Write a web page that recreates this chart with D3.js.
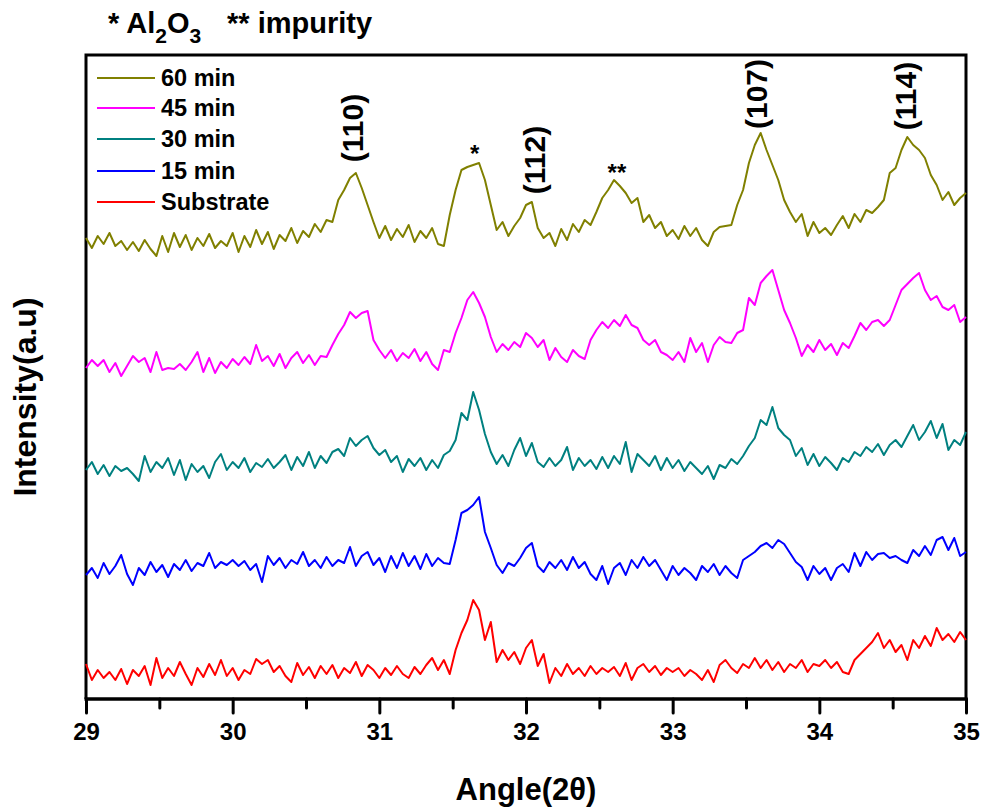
<!DOCTYPE html>
<html>
<head>
<meta charset="utf-8">
<script src="https://cdn.jsdelivr.net/npm/d3@7"></script>
<style>
  html, body { margin: 0; padding: 0; background: #fff; }
  svg { display: block; font-family: "Liberation Sans", Arial, sans-serif; font-weight: bold; }
</style>
</head>
<body>
<svg id="chart" width="985" height="808"></svg>
<script>
// ---------------- DATA ----------------
const angleStart = 29.0;   // 2θ of first sample
const angleStep = 0.04;    // sampling step (degrees)

const seriesNames = ["60 min", "45 min", "30 min", "15 min", "Substrate"];
const seriesColors = ["#808000", "#ff00ff", "#008080", "#0000ff", "#ff0000"];

// Stacked intensities (a.u.)
const min60 = [462,452,464,456,467,454,459,450,458,449,460,451,444,464,448,467,453,465,450,462,
454,466,452,459,454,467,448,464,453,470,456,468,451,465,459,472,457,469,463,476,
468,480,478,500,510,522,527,512,495,478,462,474,460,471,463,475,458,469,462,472,
456,454,485,510,530,533,535,537,520,495,470,478,464,474,482,495,498,472,462,467,
454,471,460,476,468,480,475,488,502,510,520,514,507,497,502,478,485,472,478,464,
470,461,474,464,472,460,454,468,473,474,475,495,510,537,555,567,550,535,520,500,
488,478,486,464,478,467,472,465,475,484,472,486,478,490,487,493,500,527,532,550,
563,555,550,542,525,515,500,508,495,502,507];

const min45 = [332,340,334,340,328,337,324,334,344,338,342,328,348,330,332,331,336,330,338,348,
328,342,327,338,332,341,335,343,336,355,339,344,334,346,332,342,348,337,345,335,
344,343,355,366,375,388,382,387,389,360,350,342,350,339,347,342,351,339,348,336,
330,350,348,367,382,400,408,397,383,363,348,356,350,358,353,367,362,353,360,340,
352,343,338,350,344,341,360,370,378,372,380,374,385,375,372,360,355,360,348,345,
340,348,338,362,348,357,338,355,363,358,357,367,370,402,395,417,424,430,410,390,
377,362,344,355,348,360,350,356,345,357,352,364,377,370,378,380,374,380,395,410,
416,422,427,410,400,404,393,390,395,378,383];

const min30 = [230,238,226,235,224,234,229,232,226,219,244,228,238,232,242,225,240,220,236,228,
234,222,238,246,230,238,232,242,228,237,233,241,232,238,245,230,243,234,248,232,
244,237,248,251,244,262,254,260,264,252,245,250,238,244,228,241,234,242,230,240,
232,245,249,260,287,280,308,290,266,248,236,245,234,250,262,244,257,238,233,242,
234,240,253,230,242,234,240,231,243,232,244,236,258,228,246,240,234,244,230,242,
232,240,229,238,232,226,234,221,235,232,241,236,244,254,262,280,275,293,272,265,
260,244,252,235,246,234,243,237,230,242,238,248,244,253,248,256,245,255,260,253,
264,275,260,268,279,262,276,250,260,255,268];

const min15 = [125,132,122,137,126,134,145,126,115,132,125,138,128,135,123,136,130,140,129,137,
134,147,132,138,135,140,134,139,130,136,118,144,135,142,132,140,136,148,134,140,
132,143,134,140,137,153,134,144,148,135,142,128,144,132,147,134,144,131,146,134,
142,137,136,160,187,190,195,203,168,152,135,127,137,134,142,152,157,134,128,138,
132,140,130,143,132,138,126,120,134,116,132,137,125,140,132,143,134,140,130,120,
134,125,132,127,120,134,128,136,125,134,127,122,140,144,148,154,157,152,160,156,
147,138,133,120,134,126,132,120,132,136,128,147,134,148,140,146,147,142,144,140,
137,150,144,154,145,160,163,150,162,144,148];

const substrate = [36,20,30,22,28,20,31,16,30,24,34,15,42,22,32,24,38,26,15,32,
23,36,25,40,24,32,20,30,26,41,36,40,28,34,24,18,37,25,33,22,
34,26,35,22,32,27,38,24,35,30,22,32,25,34,26,22,33,26,35,42,
30,40,26,50,67,80,100,90,60,78,38,50,40,48,36,52,60,34,46,17,
32,24,36,26,32,24,34,26,32,28,33,24,37,20,32,36,28,34,25,32,
28,32,24,30,26,20,30,18,35,40,32,27,36,32,42,32,40,30,38,28,
36,32,40,28,36,34,40,32,38,28,26,40,46,52,58,67,52,60,48,55,
40,60,52,64,54,72,60,66,58,68,60];

const seriesValues = [min60, min45, min30, min15, substrate];

const xTicks = [29, 30, 31, 32, 33, 34, 35];
const xMinorTicks = [29.5, 30.5, 31.5, 32.5, 33.5, 34.5];

const peakLabels = [
  { text: "(110)", angle: 30.89, top: 128 },
  { text: "(112)", angle: 32.13, top: 160 },
  { text: "(107)", angle: 33.64, top: 94 },
  { text: "(114)", angle: 34.66, top: 96 }
];
const starLabels = [
  { text: "*", angle: 31.65, intensity: 538 },
  { text: "**", angle: 32.62, intensity: 519 }
];

// ---------------- LAYOUT ----------------
const svg = d3.select("#chart");
const L = 86, R = 966, T = 55, B = 699;

const x = d3.scaleLinear().domain([29, 35]).range([L, R]);
const y = d3.scaleLinear().domain([1, 645]).range([B, T]);

// frame (left, top, right)
svg.append("path")
  .attr("d", `M${L},${B} L${L},${T} L${R},${T} L${R},${B}`)
  .attr("fill", "none").attr("stroke", "#000").attr("stroke-width", 3);

// curves
const line = d3.line()
  .x((d, i) => x(angleStart + i * angleStep))
  .y(d => y(d));

seriesValues.forEach((vals, k) => {
  svg.append("path")
    .datum(vals)
    .attr("d", line)
    .attr("fill", "none")
    .attr("stroke", seriesColors[k])
    .attr("stroke-width", 2)
    .attr("stroke-linejoin", "round");
});

// x axis
const xAxis = d3.axisBottom(x).tickValues(xTicks).tickSize(14).tickPadding(10)
  .tickFormat(d3.format("d"));
const gx = svg.append("g").attr("transform", `translate(0,${B})`).call(xAxis);
gx.select(".domain").attr("stroke-width", 3.5).attr("d", `M${L - 1.5},0H${R + 1.5}`);
gx.selectAll(".tick line").attr("stroke-width", 3).attr("stroke-linecap", "round");
gx.selectAll(".tick text")
  .attr("font-size", 24).attr("font-weight", "bold")
  .attr("font-family", '"Liberation Sans", Arial, sans-serif').attr("fill", "#000");

const xMinor = d3.axisBottom(x).tickValues(xMinorTicks).tickSize(9).tickFormat("");
const gm = svg.append("g").attr("transform", `translate(0,${B})`).call(xMinor);
gm.select(".domain").remove();
gm.selectAll(".tick line").attr("stroke-width", 3).attr("stroke-linecap", "round");

// axis titles
svg.append("text")
  .attr("x", (L + R) / 2).attr("y", 800)
  .attr("text-anchor", "middle").attr("font-size", 31)
  .text("Angle(2θ)");

svg.append("text")
  .attr("transform", "translate(36,397) rotate(-90)")
  .attr("text-anchor", "middle").attr("font-size", 32)
  .text("Intensity(a.u)");

// title
const title = svg.append("text").attr("x", 108).attr("y", 33).attr("font-size", 29);
title.append("tspan").text("* Al");
title.append("tspan").attr("font-size", 21).attr("dy", 10).text("2");
title.append("tspan").attr("dy", -10).text("O");
title.append("tspan").attr("font-size", 21).attr("dy", 10).text("3");
svg.append("text").attr("x", 227).attr("y", 33).attr("font-size", 29).text("** impurity");

// legend
const legendY = [78, 108, 139, 171, 202];
seriesNames.forEach((name, k) => {
  svg.append("line")
    .attr("x1", 97).attr("x2", 155)
    .attr("y1", legendY[k]).attr("y2", legendY[k])
    .attr("stroke", seriesColors[k]).attr("stroke-width", 2);
  svg.append("text")
    .attr("x", 161).attr("y", legendY[k] + 8)
    .attr("font-size", 23.5)
    .text(name);
});

// peak labels (rotated)
peakLabels.forEach(p => {
  svg.append("text")
    .attr("transform", `translate(${x(p.angle)},${p.top}) rotate(-90)`)
    .attr("text-anchor", "middle")
    .attr("font-size", 30)
    .text(p.text);
});
starLabels.forEach(s => {
  svg.append("text")
    .attr("x", x(s.angle)).attr("y", y(s.intensity))
    .attr("text-anchor", "middle")
    .attr("font-size", 24)
    .text(s.text);
});
</script>
</body>
</html>
